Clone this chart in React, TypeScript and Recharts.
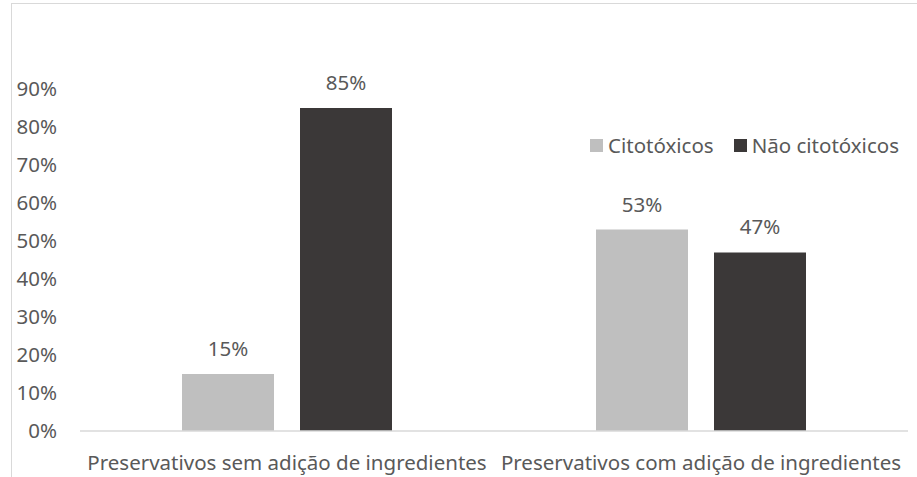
import { BarChart, Bar, XAxis, YAxis, LabelList } from 'recharts';

const categories = ['Preservativos sem adição de ingredientes', 'Preservativos com adição de ingredientes'];
const citotoxicos = [0.15, 0.53];
const naoCitotoxicos = [0.85, 0.47];
const yTicks = [0, 0.1, 0.2, 0.3, 0.4, 0.5, 0.6, 0.7, 0.8, 0.9];
const legendItems = [
  { label: 'Citotóxicos', color: '#bfbfbf' },
  { label: 'Não citotóxicos', color: '#3b3838' },
];

const data = categories.map((name, i) => ({
  name,
  citotoxicos: citotoxicos[i],
  naoCitotoxicos: naoCitotoxicos[i],
}));

const FONT = '"Noto Sans", sans-serif';
const TEXT = '#595959';
const FS = 20.5;
const pct = (v: any) => `${Math.round(Number(v) * 100)}%`;

function LegendBox() {
  return (
    <div
      style={{
        position: 'absolute', left: 590, top: 131, display: 'flex', gap: 20,
        fontFamily: FONT, fontSize: FS, color: TEXT, whiteSpace: 'nowrap',
      }}
    >
      {legendItems.map((it) => (
        <span key={it.label} style={{ display: 'flex', alignItems: 'center', gap: 5 }}>
          <span style={{ width: 13, height: 13, background: it.color, display: 'inline-block' }} />
          {it.label}
        </span>
      ))}
    </div>
  );
}

export default function App() {
  return (
    <div style={{ position: 'absolute', left: 0, top: 0, width: 917, height: 477, overflow: 'hidden', background: '#fff' }}>
      <div style={{ position: 'absolute', left: 11, top: 3, width: 1200, height: 1200, border: '1.5px solid #d9d9d9' }} />
      <div style={{ position: 'absolute', left: 0, top: 0 }}>
        <BarChart
          width={917}
          height={477}
          data={data}
          margin={{ top: 51, right: 9, bottom: 0, left: 0 }}
          barSize={92}
          barGap={26}
        >
          <XAxis
            dataKey="name"
            height={46}
            axisLine={{ stroke: '#d9d9d9', strokeWidth: 1.5 }}
            tickLine={false}
            tickSize={0}
            tickMargin={24}
            tick={{ fill: TEXT, fontSize: FS, fontFamily: FONT }}
            interval={0}
          />
          <YAxis
            width={80}
            domain={[0, 1]}
            ticks={yTicks}
            tickFormatter={pct}
            axisLine={false}
            tickLine={false}
            tickSize={0}
            tickMargin={23}
            tick={{ fill: TEXT, fontSize: FS, fontFamily: FONT }}
          />
          <Bar dataKey="citotoxicos" name="Citotóxicos" fill="#bfbfbf" isAnimationActive={false}>
            <LabelList dataKey="citotoxicos" position="top" offset={18} formatter={pct} fill={TEXT} fontSize={FS} fontFamily={FONT} />
          </Bar>
          <Bar dataKey="naoCitotoxicos" name="Não citotóxicos" fill="#3b3838" isAnimationActive={false}>
            <LabelList dataKey="naoCitotoxicos" position="top" offset={18} formatter={pct} fill={TEXT} fontSize={FS} fontFamily={FONT} />
          </Bar>
        </BarChart>
      </div>
      <LegendBox />
    </div>
  );
}
